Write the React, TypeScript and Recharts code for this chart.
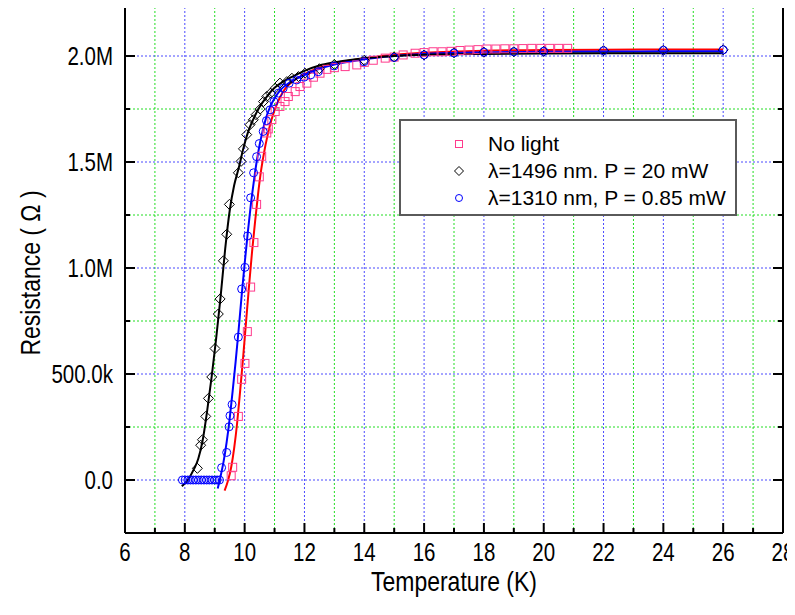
import {
  ComposedChart,
  Line,
  Scatter,
  XAxis,
  YAxis,
  ReferenceLine,
  Legend,
  Label,
} from 'recharts';

// temperature (K), resistance (MΩ)
const NO_LIGHT: [number, number][] = [
  [9.55, 0.02], [9.6, 0.06], [9.79, 0.3], [9.9, 0.475], [10.01, 0.55], [10.09, 0.7],
  [10.2, 0.91], [10.31, 1.12], [10.4, 1.3], [10.49, 1.43], [10.57, 1.527], [10.74, 1.637],
  [10.79, 1.656], [10.91, 1.7], [11.02, 1.738], [11.18, 1.762], [11.35, 1.785], [11.46, 1.809],
  [11.69, 1.832], [11.85, 1.856], [12.08, 1.872], [12.3, 1.9], [12.52, 1.919], [12.75, 1.937],
  [13.0, 1.945], [13.36, 1.95], [13.75, 1.958], [14.0, 1.97], [14.3, 1.98], [14.7, 1.99],
  [15.0, 1.995], [15.3, 2.005], [15.7, 2.013], [16.0, 2.016], [16.3, 2.02], [16.6, 2.02],
  [16.9, 2.022], [17.2, 2.026], [17.5, 2.028], [17.8, 2.03], [18.1, 2.033], [18.4, 2.033],
  [18.7, 2.034], [19.0, 2.034], [19.3, 2.035], [19.6, 2.036], [19.9, 2.036], [20.2, 2.036],
  [20.5, 2.036], [20.8, 2.036],
];

const NM1496: [number, number][] = [
  [8.42, 0.055], [8.53, 0.164], [8.59, 0.19], [8.7, 0.3], [8.79, 0.385], [8.9, 0.486],
  [9.01, 0.62], [9.12, 0.783], [9.18, 0.854], [9.29, 1.034], [9.4, 1.159], [9.49, 1.3],
  [9.79, 1.449], [9.88, 1.503], [9.96, 1.562], [10.07, 1.629], [10.18, 1.676], [10.29, 1.699],
  [10.38, 1.723], [10.52, 1.75], [10.63, 1.785], [10.74, 1.809], [10.87, 1.825], [11.02, 1.848],
  [11.18, 1.872], [11.41, 1.879], [11.58, 1.895], [11.8, 1.903], [12.02, 1.919], [12.5, 1.94],
  [13, 1.96], [14, 1.98], [15, 1.995], [16, 2.005], [17, 2.015], [18, 2.018], [19, 2.02],
  [20, 2.022], [22, 2.025], [24, 2.027], [26, 2.029],
];

const NM1310: [number, number][] = [
  [7.92, 0], [8.01, 0], [8.1, 0], [8.19, 0], [8.28, 0], [8.37, 0], [8.46, 0], [8.55, 0],
  [8.64, 0], [8.73, 0], [8.82, 0], [8.91, 0], [9.0, 0], [9.08, 0], [9.16, 0],
  [9.23, 0.058], [9.4, 0.13], [9.48, 0.251], [9.51, 0.303], [9.58, 0.356], [9.79, 0.674],
  [9.9, 0.901], [10.01, 1.003], [10.1, 1.151], [10.2, 1.331], [10.3, 1.449], [10.4, 1.525],
  [10.49, 1.587], [10.62, 1.644], [10.73, 1.695], [10.85, 1.746], [10.98, 1.785], [11.13, 1.825],
  [11.29, 1.848], [11.49, 1.872], [11.74, 1.887], [11.99, 1.9], [12.21, 1.911], [12.46, 1.926],
  [12.99, 1.953], [13.99, 1.973], [15, 1.993], [16, 2.005], [17, 2.014], [18, 2.018],
  [19, 2.02], [20, 2.022], [22, 2.025], [24, 2.027], [26, 2.029],
];

// fitted curves
const FIT_NO_LIGHT: [number, number][] = [
  [9.33, -0.05], [9.45, 0.0], [9.55, 0.06], [9.65, 0.15], [9.75, 0.27], [9.85, 0.42],
  [9.95, 0.58], [10.05, 0.75], [10.15, 0.92], [10.25, 1.08], [10.35, 1.22], [10.45, 1.35],
  [10.55, 1.46], [10.65, 1.545], [10.75, 1.615], [10.9, 1.7], [11.1, 1.78], [11.3, 1.835],
  [11.6, 1.88], [12.0, 1.915], [12.5, 1.945], [13, 1.965], [14, 1.99], [15, 2.005],
  [16, 2.015], [18, 2.025], [20, 2.028], [22, 2.03], [24, 2.031], [26, 2.031],
];

const FIT_1496: [number, number][] = [
  [7.9, -0.03], [8.1, 0.0], [8.3, 0.05], [8.45, 0.1], [8.6, 0.19], [8.75, 0.33], [8.9, 0.49],
  [9.05, 0.67], [9.2, 0.87], [9.35, 1.09], [9.5, 1.27], [9.65, 1.39], [9.8, 1.47], [9.95, 1.56],
  [10.1, 1.635], [10.3, 1.705], [10.5, 1.76], [10.75, 1.81], [11, 1.85], [11.3, 1.88],
  [11.7, 1.91], [12, 1.93], [12.5, 1.955], [13, 1.97], [14, 1.99], [15, 2.0], [16, 2.006],
  [18, 2.01], [20, 2.012], [22, 2.013], [26, 2.013],
];

const FIT_1310: [number, number][] = [
  [9.1, -0.04], [9.2, 0.02], [9.3, 0.09], [9.4, 0.18], [9.5, 0.29], [9.6, 0.42], [9.7, 0.56],
  [9.8, 0.71], [9.9, 0.87], [10.0, 1.02], [10.1, 1.16], [10.2, 1.29], [10.3, 1.4], [10.4, 1.5],
  [10.5, 1.58], [10.6, 1.645], [10.7, 1.7], [10.85, 1.76], [11.0, 1.8], [11.2, 1.84],
  [11.5, 1.875], [12, 1.91], [12.5, 1.94], [13, 1.96], [14, 1.985], [15, 2.0], [16, 2.01],
  [18, 2.017], [20, 2.02], [22, 2.021], [24, 2.022], [26, 2.022],
];

const X_TICKS = [6, 7, 8, 9, 10, 11, 12, 13, 14, 15, 16, 17, 18, 19, 20, 21, 22, 23, 24, 25, 26, 27, 28];
const Y_TICKS = [0, 0.25, 0.5, 0.75, 1, 1.25, 1.5, 1.75, 2];
const X_GRID = [7, 8, 9, 10, 11, 12, 13, 14, 15, 16, 17, 18, 19, 20, 21, 22, 23, 24, 25, 26, 27];

const PINK = '#ff3a8c';
const RED = '#ff0000';
const BLUE = '#0000ff';
const BLACK = '#000000';
const GRID_BLUE = '#4a4aff';
const GRID_GREEN = '#22dd22';

const SANS = "'Liberation Sans', Arial, sans-serif";
const SQUEEZE = 0.82; // the original uses a narrow face; squeeze Liberation Sans

const toRows = (pts: [number, number][]) => pts.map(([t, r]) => ({ t, r }));

const isMajorX = (v: number) => v % 2 === 0;
const isMajorY = (v: number) => Math.abs(v * 2 - Math.round(v * 2)) < 1e-6;

const fmtY = (v: number) => {
  if (v === 0) return '0.0';
  if (v < 1) return `${(v * 1000).toFixed(1)}k`;
  return `${v.toFixed(1)}M`;
};

function NarrowText({ x, y, anchor, size, rotate = 0, children }: any) {
  return (
    <g transform={`translate(${x},${y}) rotate(${rotate}) scale(${SQUEEZE},1)`}>
      <text x={0} y={0} textAnchor={anchor} dominantBaseline="central" fontFamily={SANS} fontSize={size} fill="#000">
        {children}
      </text>
    </g>
  );
}

function BottomTick({ x, y, payload }: any) {
  const v = payload.value;
  const major = isMajorX(v);
  return (
    <g>
      <line x1={x} x2={x} y1={y} y2={y - (major ? 10 : 5)} stroke="#000" strokeWidth={2} />
      {major && (
        <NarrowText x={x} y={y + 19} anchor="middle" size={25}>
          {v}
        </NarrowText>
      )}
    </g>
  );
}

function TopTick({ x, y, payload }: any) {
  const major = isMajorX(payload.value);
  return <line x1={x} x2={x} y1={y} y2={y + (major ? 10 : 5)} stroke="#000" strokeWidth={2} />;
}

function LeftTick({ x, y, payload }: any) {
  const v = payload.value;
  const major = isMajorY(v);
  return (
    <g>
      <line x1={x} x2={x + (major ? 10 : 5)} y1={y} y2={y} stroke="#000" strokeWidth={2} />
      {major && (
        <NarrowText x={x - 12} y={y} anchor="end" size={25}>
          {fmtY(v)}
        </NarrowText>
      )}
    </g>
  );
}

function RightTick({ x, y, payload }: any) {
  const major = isMajorY(payload.value);
  return <line x1={x} x2={x - (major ? 10 : 5)} y1={y} y2={y} stroke="#000" strokeWidth={2} />;
}

const Square = ({ cx, cy, s = 8 }: any) => (
  <rect x={cx - s / 2} y={cy - s / 2} width={s} height={s} fill="none" stroke={PINK} strokeWidth={1} />
);
const Diamond = ({ cx, cy, s = 10 }: any) => (
  <polygon
    points={`${cx},${cy - s / 2} ${cx + s / 2},${cy} ${cx},${cy + s / 2} ${cx - s / 2},${cy}`}
    fill="none"
    stroke={BLACK}
    strokeWidth={1}
  />
);
const Circle = ({ cx, cy, s = 8 }: any) => (
  <circle cx={cx} cy={cy} r={s / 2} fill="none" stroke={BLUE} strokeWidth={1} />
);

const LEGEND = [
  { name: 'No light', Mark: Square, s: 7 },
  { name: 'λ=1496 nm. P = 20 mW', Mark: Diamond, s: 9 },
  { name: 'λ=1310 nm, P = 0.85 mW', Mark: Circle, s: 7 },
];

function LegendBox() {
  return (
    <div
      style={{
        width: 338,
        height: 97,
        border: '2px solid #5a5a5a',
        background: '#fff',
        boxSizing: 'border-box',
        paddingTop: 9,
        fontFamily: SANS,
        fontSize: 21,
        color: '#000',
      }}
    >
      {LEGEND.map(({ name, Mark, s }) => (
        <div key={name} style={{ display: 'flex', alignItems: 'center', height: 27 }}>
          <svg width={20} height={20} style={{ marginLeft: 48, marginRight: 19 }}>
            <Mark cx={10} cy={10} s={s} />
          </svg>
          <span style={{ whiteSpace: 'nowrap' }}>{name}</span>
        </div>
      ))}
    </div>
  );
}

export default function App() {
  return (
    <div style={{ margin: -8, width: 795, height: 615, position: 'relative', background: '#fff' }}>
      <ComposedChart width={795} height={615} margin={{ top: 2, right: 11, bottom: 0, left: 8 }}>
        <XAxis
          xAxisId={0}
          type="number"
          dataKey="t"
          domain={[6, 28]}
          ticks={X_TICKS}
          interval={0}
          allowDataOverflow
          height={82}
          tickSize={0}
          tickMargin={0}
          tickLine={false}
          axisLine={{ stroke: '#000', strokeWidth: 2 }}
          tick={<BottomTick />}
        >
          <Label
            content={({ viewBox }: any) => (
              <NarrowText x={viewBox.x + viewBox.width / 2} y={viewBox.y + viewBox.height - 34} anchor="middle" size={28}>
                Temperature (K)
              </NarrowText>
            )}
          />
        </XAxis>
        <XAxis
          xAxisId="top"
          orientation="top"
          type="number"
          domain={[6, 28]}
          ticks={X_TICKS}
          interval={0}
          allowDataOverflow
          height={1}
          tickSize={0}
          tickMargin={0}
          tickLine={false}
          axisLine={{ stroke: '#000', strokeWidth: 2 }}
          tick={<TopTick />}
        />
        <YAxis
          yAxisId={0}
          type="number"
          dataKey="r"
          domain={[-0.25, 2.25]}
          ticks={Y_TICKS}
          interval={0}
          allowDataOverflow
          width={117}
          tickSize={0}
          tickMargin={0}
          tickLine={false}
          axisLine={{ stroke: '#000', strokeWidth: 2 }}
          tick={<LeftTick />}
        >
          <Label
            content={({ viewBox }: any) => (
              <NarrowText x={viewBox.x + 22} y={viewBox.y + viewBox.height / 2 + 5} anchor="middle" size={28} rotate={-90}>
                Resistance ( Ω )
              </NarrowText>
            )}
          />
        </YAxis>
        <YAxis
          yAxisId="right"
          orientation="right"
          type="number"
          domain={[-0.25, 2.25]}
          ticks={Y_TICKS}
          interval={0}
          allowDataOverflow
          width={1}
          tickSize={0}
          tickMargin={0}
          tickLine={false}
          axisLine={{ stroke: '#000', strokeWidth: 2 }}
          tick={<RightTick />}
        />

        {X_GRID.map((v) => (
          <ReferenceLine
            key={`gx${v}`}
            x={v}
            stroke={v % 2 === 0 ? GRID_BLUE : GRID_GREEN}
            strokeDasharray="2 2"
            strokeWidth={1}
          />
        ))}
        {Y_TICKS.map((v) => (
          <ReferenceLine
            key={`gy${v}`}
            y={v}
            stroke={isMajorY(v) ? GRID_BLUE : GRID_GREEN}
            strokeDasharray="2 2"
            strokeWidth={1}
          />
        ))}

        <Scatter name="No light" data={toRows(NO_LIGHT)} shape={(p: any) => <Square cx={p.cx} cy={p.cy} />} isAnimationActive={false} />
        <Scatter name="1496" data={toRows(NM1496)} shape={(p: any) => <Diamond cx={p.cx} cy={p.cy} />} isAnimationActive={false} />
        <Scatter name="1310" data={toRows(NM1310)} shape={(p: any) => <Circle cx={p.cx} cy={p.cy} />} isAnimationActive={false} />

        <Line data={toRows(FIT_NO_LIGHT)} dataKey="r" type="monotone" stroke={RED} strokeWidth={2} dot={false} activeDot={false} isAnimationActive={false} />
        <Line data={toRows(FIT_1310)} dataKey="r" type="monotone" stroke={BLUE} strokeWidth={2} dot={false} activeDot={false} isAnimationActive={false} />
        <Line data={toRows(FIT_1496)} dataKey="r" type="monotone" stroke={BLACK} strokeWidth={2} dot={false} activeDot={false} isAnimationActive={false} />

        <Legend
          content={() => <LegendBox />}
          wrapperStyle={{ left: 399, top: 119, width: 'auto' }}
          layout="vertical"
          align="center"
          verticalAlign="middle"
        />
      </ComposedChart>
    </div>
  );
}
